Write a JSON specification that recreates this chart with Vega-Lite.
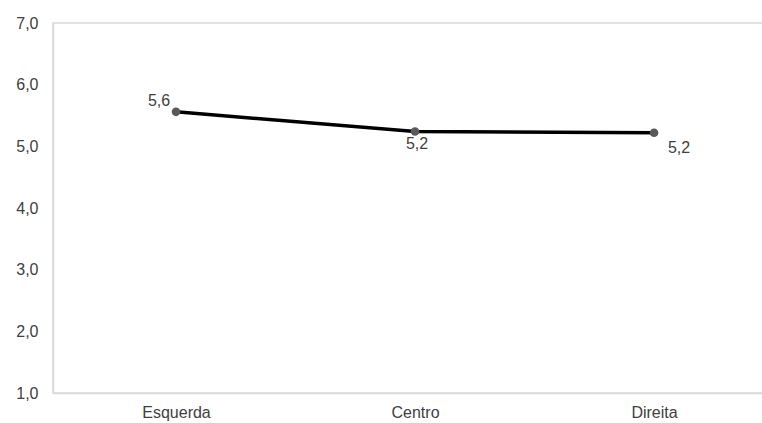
{
  "$schema": "https://vega.github.io/schema/vega-lite/v6.json",
  "autosize": {"type": "none"},
  "width": 711,
  "height": 370,
  "padding": {"left": 53, "top": 23, "right": 0, "bottom": 30},
  "background": "white",
  "config": {
    "locale": {"number": {"decimal": ",", "thousands": ".", "grouping": [3], "currency": ["", ""]}},
    "view": {"stroke": "#d9d9d9", "strokeWidth": 1.5},
    "font": "Liberation Sans",
    "axis": {"grid": false, "ticks": false, "tickSize": 0, "domainColor": "#d9d9d9", "domainWidth": 1.5, "labelColor": "#404040", "labelFont": "Liberation Sans", "labelFontSize": 16, "title": null}
  },
  "data": {"values": [
    {"grupo": "Esquerda", "valor": 5.56},
    {"grupo": "Centro", "valor": 5.24},
    {"grupo": "Direita", "valor": 5.22}
  ]},
  "encoding": {
    "x": {"field": "grupo", "type": "nominal", "sort": ["Esquerda", "Centro", "Direita"], "scale": {"type": "point", "padding": 0.4874, "align": 0.528}, "axis": {"labelAngle": 0, "labelPadding": 11, "title": null}},
    "y": {"field": "valor", "type": "quantitative", "scale": {"domain": [1, 7], "nice": false, "zero": false}, "axis": {"values": [1, 2, 3, 4, 5, 6, 7], "format": ".1f", "labelPadding": 15, "title": null}}
  },
  "layer": [
    {"mark": {"type": "line", "color": "#000000", "strokeWidth": 3.5}},
    {"mark": {"type": "point", "filled": true, "color": "#595959", "size": 75, "opacity": 1}},
    {"transform": [{"filter": "datum.grupo === 'Esquerda'"}], "mark": {"type": "text", "dx": -17, "dy": -11, "fontSize": 16, "color": "#404040", "font": "Liberation Sans"}, "encoding": {"text": {"field": "valor", "type": "quantitative", "format": ".1f"}}},
    {"transform": [{"filter": "datum.grupo === 'Centro'"}], "mark": {"type": "text", "dx": 2, "dy": 12, "fontSize": 16, "color": "#404040", "font": "Liberation Sans"}, "encoding": {"text": {"field": "valor", "type": "quantitative", "format": ".1f"}}},
    {"transform": [{"filter": "datum.grupo === 'Direita'"}], "mark": {"type": "text", "dx": 25, "dy": 15, "fontSize": 16, "color": "#404040", "font": "Liberation Sans"}, "encoding": {"text": {"field": "valor", "type": "quantitative", "format": ".1f"}}}
  ]
}
